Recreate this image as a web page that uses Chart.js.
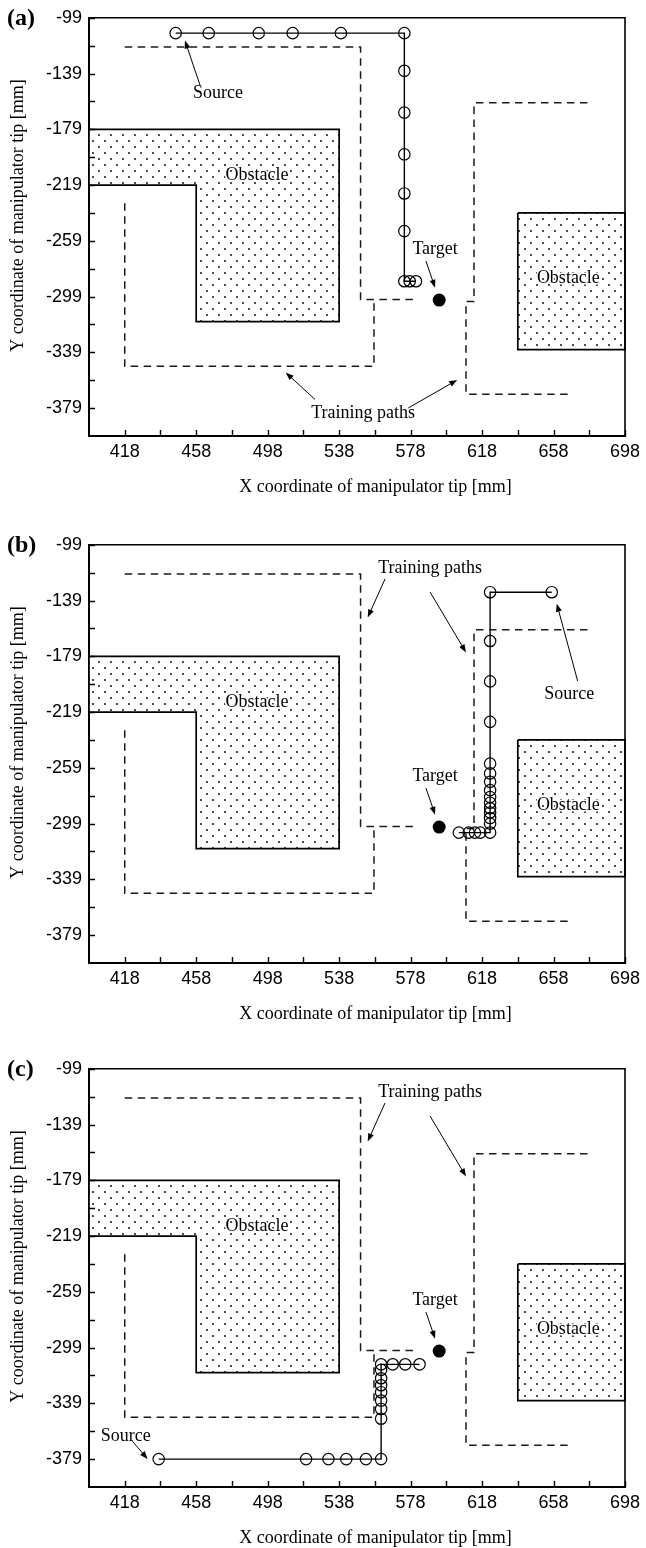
<!DOCTYPE html>
<html><head><meta charset="utf-8">
<script src="https://cdn.jsdelivr.net/npm/chart.js@4.4.0/dist/chart.umd.min.js"></script>
<style>
html,body{margin:0;padding:0;background:#fff;}
#wrap{position:relative;width:646px;height:1548px;background:#fff;}
.panel{position:absolute;left:0;width:646px;height:497px;}
</style></head><body>
<div id="wrap">
<div class="panel" style="top:0px"><canvas id="ca" width="646" height="497"></canvas></div>
<div class="panel" style="top:527px"><canvas id="cb" width="646" height="497"></canvas></div>
<div class="panel" style="top:1051px"><canvas id="cc" width="646" height="497"></canvas></div>
</div>
<script>
// ---------- axes ----------
const xRange = [398, 698];
const yRange = [-399, -99];
const xTickLabels = [418, 458, 498, 538, 578, 618, 658, 698];
const xMinorTicks = [438, 478, 518, 558, 598, 638, 678];
const yTickLabels = [-379, -339, -299, -259, -219, -179, -139, -99];
const yMinorTicks = [-359, -319, -279, -239, -199, -159, -119];
const xTitle = 'X coordinate of manipulator tip [mm]';
const yTitle = 'Y coordinate of manipulator tip [mm]';

// ---------- obstacles ----------
const obstacleLeftX = [398, 538, 538, 458, 458, 398, 398];
const obstacleLeftY = [-179, -179, -317, -317, -219, -219, -179];
const obstacleRightX = [638, 698, 698, 638, 638];
const obstacleRightY = [-239, -239, -337, -337, -239];

// ---------- training paths ----------
const trainUpperX = [418, 550, 550, 582];
const trainUpperY = [-120, -120, -301, -301];
const trainLowerX = [418, 418, 557.5, 557.5];
const trainLowerY = [-232, -349, -349, -302];
const trainRightX = [677, 613.5, 613.5, 609, 609, 668];
const trainRightY = [-160, -160, -302.5, -302.5, -369, -369];

// ---------- target ----------
const targetX = [594];
const targetY = [-301.5];

// ---------- generated paths ----------
const pathAX = [446.5, 465, 493, 512, 539, 574.5, 574.5, 574.5, 574.5, 574.5, 574.5, 574.5, 577.5, 581];
const pathAY = [-110, -110, -110, -110, -110, -110, -137, -167, -197, -225, -252, -288, -288, -288];
const pathBX = [657, 622.5, 622.5, 622.5, 622.5, 622.5, 622.5, 622.5, 622.5, 622.5, 622.5, 622.5, 622.5, 622.5, 622.5, 622.5, 617, 614, 610.5, 605];
const pathBY = [-133, -133, -168, -197, -226, -256, -263, -269, -275, -280, -284, -288, -291, -295, -299, -305.5, -305.5, -305.5, -305.5, -305.5];
const pathCX = [437, 519.5, 532, 542, 553, 561.5, 561.5, 561.5, 561.5, 561.5, 561.5, 561.5, 561.5, 561.5, 568, 575, 583];
const pathCY = [-379, -379, -379, -379, -379, -379, -350, -343, -337, -331, -326, -321, -315, -311, -311, -311, -311];

// ---------- annotations (data coordinates) ----------
const commonNotes = {
  texts: [
    {t: 'Obstacle', x: 492, y: -211.8, halo: true},
    {t: 'Obstacle', x: 666.3, y: -286, halo: true},
    {t: 'Target', x: 591.7, y: -265}
  ],
  arrows: [[586.6, -273.5, 591.7, -292.6]]
};
const notesA = {
  texts: [{t: 'Source', x: 470.2, y: -153.3}, {t: 'Training paths', x: 551.4, y: -382.7}],
  arrows: [[460.1, -147.2, 451.7, -115.3], [524.5, -372.8, 508.1, -353.4], [576.7, -378.9, 604.1, -358.8]]
};
const notesB = {
  texts: [{t: 'Training paths', x: 588.9, y: -115.7}, {t: 'Source', x: 666.8, y: -206.2}],
  arrows: [[563.7, -123.5, 554, -151.1], [588.9, -132.9, 609, -176.2], [671.5, -196.7, 659.8, -141.2]]
};
const notesC = {
  texts: [{t: 'Training paths', x: 588.9, y: -115.7}, {t: 'Source', x: 418.5, y: -362.5}],
  arrows: [[563.7, -123.5, 554, -151.1], [588.9, -132.9, 609, -176.2], [422.2, -366, 430.8, -379]]
};

function pts(xs, ys) { return xs.map((x, i) => ({x: x, y: ys[i]})); }

function dotPattern() {
  const c = document.createElement('canvas');
  c.width = 12; c.height = 12;
  const g = c.getContext('2d');
  g.fillStyle = '#fff'; g.fillRect(0, 0, 12, 12);
  g.fillStyle = '#000';
  g.beginPath(); g.arc(3, 3, 0.95, 0, Math.PI * 2); g.fill();
  g.beginPath(); g.arc(9, 9, 0.95, 0, Math.PI * 2); g.fill();
  return document.createElement('canvas').getContext('2d').createPattern(c, 'repeat');
}
const pattern = dotPattern();

const SERIF = '"Liberation Serif", "Times New Roman", serif';
const SANS = '"Liberation Sans", Arial, sans-serif';

function drawArrow(ctx, x1, y1, x2, y2) {
  const ang = Math.atan2(y2 - y1, x2 - x1);
  const L = 8, W = 3;
  ctx.beginPath();
  ctx.moveTo(x1, y1);
  ctx.lineTo(x2 - Math.cos(ang) * L * 0.8, y2 - Math.sin(ang) * L * 0.8);
  ctx.stroke();
  ctx.beginPath();
  ctx.moveTo(x2, y2);
  ctx.lineTo(x2 - Math.cos(ang) * L + Math.sin(ang) * W, y2 - Math.sin(ang) * L - Math.cos(ang) * W);
  ctx.lineTo(x2 - Math.cos(ang) * L - Math.sin(ang) * W, y2 - Math.sin(ang) * L + Math.cos(ang) * W);
  ctx.closePath();
  ctx.fill();
}

const decor = {
  id: 'decor',
  afterDatasetsDraw(chart, args, opts) {
    const ctx = chart.ctx, a = chart.chartArea, sx = chart.scales.x, sy = chart.scales.y;
    ctx.save();
    ctx.strokeStyle = '#000'; ctx.fillStyle = '#000';
    // top & right frame
    ctx.lineWidth = 1.6;
    ctx.beginPath();
    ctx.moveTo(a.left, a.top); ctx.lineTo(a.right, a.top); ctx.lineTo(a.right, a.bottom);
    ctx.stroke();
    // inward ticks
    ctx.lineWidth = 1.4;
    ctx.beginPath();
    xTickLabels.concat(xMinorTicks).forEach(v => {
      const p = Math.round(sx.getPixelForValue(v)) + 0.5;
      ctx.moveTo(p, a.bottom); ctx.lineTo(p, a.bottom - 6);
    });
    yTickLabels.concat(yMinorTicks).forEach(v => {
      const p = Math.round(sy.getPixelForValue(v)) + 0.5;
      ctx.moveTo(a.left, p); ctx.lineTo(a.left + 6, p);
    });
    ctx.stroke();
    // annotations
    const notes = [commonNotes, opts.notes];
    ctx.font = '18px ' + SERIF;
    ctx.textAlign = 'center'; ctx.textBaseline = 'middle';
    notes.forEach(n => {
      n.texts.forEach(t => {
        const px = sx.getPixelForValue(t.x), py = sy.getPixelForValue(t.y);
        if (t.halo) {
          ctx.strokeStyle = '#fff'; ctx.lineWidth = 3; ctx.lineJoin = 'round';
          ctx.strokeText(t.t, px, py);
        }
        ctx.fillStyle = '#000';
        ctx.fillText(t.t, px, py);
      });
      ctx.strokeStyle = '#000'; ctx.fillStyle = '#000'; ctx.lineWidth = 1;
      n.arrows.forEach(r => {
        drawArrow(ctx, sx.getPixelForValue(r[0]), sy.getPixelForValue(r[1]),
                  sx.getPixelForValue(r[2]), sy.getPixelForValue(r[3]));
      });
    });
    ctx.restore();
  },
  afterDraw(chart, args, opts) {
    const ctx = chart.ctx;
    ctx.save();
    ctx.fillStyle = '#000';
    ctx.font = '18px ' + SERIF;
    ctx.textAlign = 'center'; ctx.textBaseline = 'middle';
    ctx.fillText(xTitle, 375.5, 487);
    ctx.save();
    ctx.translate(18, 215.5);
    ctx.rotate(-Math.PI / 2);
    ctx.fillText(yTitle, 0, 0);
    ctx.restore();
    ctx.font = 'bold 24px ' + SERIF;
    ctx.textAlign = 'left';
    ctx.fillText(opts.label, 7, 19);
    ctx.restore();
  }
};

function makeChart(id, label, px, py, notes) {
  const dashed = (xs, ys) => ({
    data: pts(xs, ys), borderColor: '#1a1a1a', borderWidth: 1.5, borderDash: [7.5, 5.5],
    pointRadius: 0, fill: false, tension: 0
  });
  const obstacle = (xs, ys) => ({
    data: pts(xs, ys), borderColor: '#000', borderWidth: 1.7, pointRadius: 0,
    fill: 'shape', backgroundColor: pattern, tension: 0, clip: false
  });
  new Chart(document.getElementById(id), {
    type: 'line',
    data: {
      datasets: [
        {data: pts(targetX, targetY), showLine: false, pointRadius: 6.5, pointBorderWidth: 0,
         pointBackgroundColor: '#000', pointBorderColor: '#000'},
        {data: pts(px, py), borderColor: '#000', borderWidth: 1.4, tension: 0, fill: false,
         pointRadius: 5.7, pointBorderWidth: 1.2, pointBorderColor: '#000',
         pointBackgroundColor: 'rgba(0,0,0,0)'},
        dashed(trainUpperX, trainUpperY),
        dashed(trainLowerX, trainLowerY),
        dashed(trainRightX, trainRightY),
        obstacle(obstacleLeftX, obstacleLeftY),
        obstacle(obstacleRightX, obstacleRightY)
      ]
    },
    options: {
      responsive: false, animation: false, devicePixelRatio: 1, events: [],
      layout: {padding: {top: 13, left: 0, right: 21, bottom: 0}},
      plugins: {legend: {display: false}, tooltip: {enabled: false},
                decor: {label: label, notes: notes}},
      scales: {
        x: {
          type: 'linear', min: xRange[0], max: xRange[1],
          afterBuildTicks: s => { s.ticks = xTickLabels.map(v => ({value: v})); },
          afterFit: s => { s.height = 61; },
          grid: {display: false, drawTicks: false},
          border: {display: true, color: '#000', width: 2},
          ticks: {autoSkip: false, maxRotation: 0, padding: 5, color: '#000',
                  font: {family: SANS, size: 18}, callback: v => String(v)}
        },
        y: {
          type: 'linear', min: yRange[0], max: yRange[1],
          afterBuildTicks: s => { s.ticks = yTickLabels.map(v => ({value: v})); },
          afterFit: s => { s.width = 89; },
          grid: {display: false, drawTicks: false},
          border: {display: true, color: '#000', width: 2},
          ticks: {autoSkip: false, padding: 7, color: '#000',
                  font: {family: SANS, size: 18}, callback: v => String(v)}
        }
      }
    },
    plugins: [decor]
  });
}

makeChart('ca', '(a)', pathAX, pathAY, notesA);
makeChart('cb', '(b)', pathBX, pathBY, notesB);
makeChart('cc', '(c)', pathCX, pathCY, notesC);
</script>
</body></html>
